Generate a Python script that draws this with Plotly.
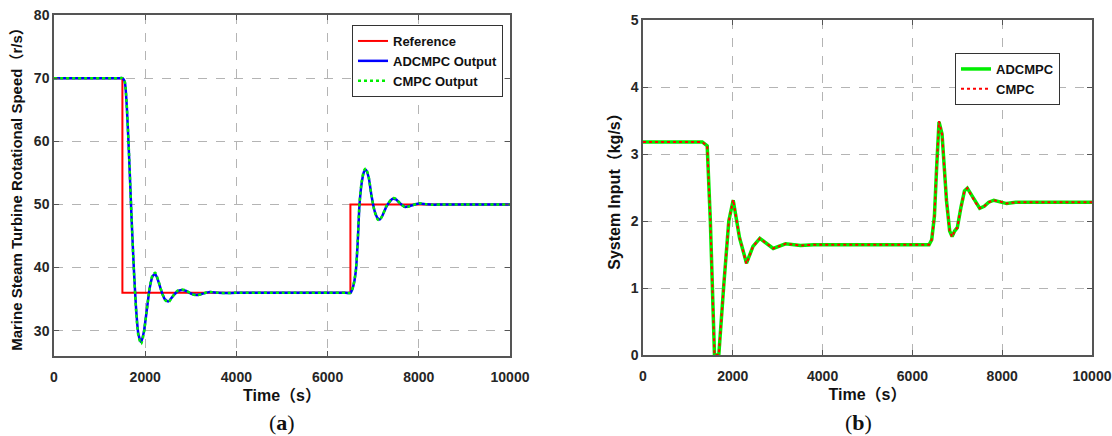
import plotly.graph_objects as go

# ---- (a) turbine rotational speed ----
ref_t = [0, 1500, 1500, 6500, 6500, 10000]
ref_speed = [70, 70, 36, 36, 50, 50]

speed_t = [0, 1300, 1450, 1500, 1550, 1600, 1650, 1700, 1750, 1800, 1850, 1910, 1970,
           2030, 2100, 2160, 2220, 2290, 2360, 2430, 2510, 2600, 2700, 2800, 2900, 3000,
           3130, 3250, 3420, 3600, 4000, 5000, 6000, 6400, 6500, 6560, 6620, 6660, 6700,
           6750, 6800, 6840, 6900, 6960, 7030, 7100, 7140, 7200, 7300, 7430, 7500, 7600,
           7700, 7800, 8000, 8150, 8300, 8500, 9000, 10000]
adcmpc_speed = [70, 70, 70, 70, 69.5, 65, 57, 48, 40, 33.5, 29.5, 28.2, 29.8,
                33, 36.8, 38.6, 39.0, 37.8, 36.2, 35.0, 34.65, 35.4, 36.2, 36.45, 36.3, 35.9,
                35.65, 35.85, 36.13, 36.0, 36.0, 36.0, 36.0, 36.0, 36.0, 37.0, 39.5, 44, 50,
                53.5, 55.2, 55.5, 54.3, 51.5, 49, 47.8, 47.6, 48.2, 49.8, 50.9, 50.8, 50.1,
                49.6, 49.75, 50.15, 50.05, 49.95, 50, 50, 50]
cmpc_speed = [70, 70, 70, 70, 69.5, 65.2, 57.2, 48, 39.8, 33.2, 29.2, 27.9, 29.6,
              33, 36.9, 38.8, 39.2, 37.9, 36.2, 34.9, 34.5, 35.4, 36.3, 36.55, 36.35, 35.9,
              35.6, 35.85, 36.15, 36.0, 36.0, 36.0, 36.0, 36.0, 36.0, 37.0, 39.6, 44.2, 50.2,
              53.8, 55.4, 55.7, 54.4, 51.5, 48.9, 47.6, 47.5, 48.2, 49.9, 51.0, 50.9, 50.1,
              49.55, 49.7, 50.2, 50.05, 49.95, 50, 50, 50]

# ---- (b) system input ----
input_t = [0, 1320, 1430, 1500, 1592, 1688, 1800, 1911, 2009, 2150, 2305, 2450,
           2602, 2750, 2900, 3175, 3510, 3800, 6371, 6430, 6490, 6540, 6593, 6660,
           6700, 6760, 6830, 6884, 6940, 7000, 7080, 7160, 7223, 7300, 7400, 7498,
           7600, 7700, 7813, 7950, 8100, 8300, 10000]
adcmpc_input = [3.18, 3.18, 3.12, 2.0, 0, 0, 1.05, 2.0, 2.31, 1.75, 1.37, 1.62,
                1.74, 1.66, 1.59, 1.66, 1.635, 1.645, 1.645, 1.72, 2.07, 2.8, 3.48, 3.3,
                2.9, 2.3, 1.85, 1.77, 1.85, 1.9, 2.2, 2.45, 2.49, 2.4, 2.28, 2.19,
                2.22, 2.28, 2.31, 2.29, 2.26, 2.28, 2.28]
cmpc_input = [3.18, 3.18, 3.12, 2.0, 0, 0, 1.05, 2.0, 2.32, 1.75, 1.36, 1.62,
              1.74, 1.66, 1.59, 1.66, 1.635, 1.645, 1.645, 1.72, 2.07, 2.8, 3.49, 3.3,
              2.9, 2.3, 1.85, 1.76, 1.85, 1.9, 2.2, 2.45, 2.49, 2.4, 2.28, 2.19,
              2.22, 2.28, 2.31, 2.29, 2.26, 2.28, 2.28]

time_ticks = [0, 2000, 4000, 6000, 8000, 10000]
time_labels = ["0", "2000", "4000", "6000", "8000", "10000"]
speed_ticks = [30, 40, 50, 60, 70, 80]
input_ticks = [0, 1, 2, 3, 4, 5]

W, H = 1112, 436
BOLD = "Liberation Sans, Arial, Noto Sans CJK SC, sans-serif"
tick_font = dict(family=BOLD, size=14, color="#262626", weight="bold")


def title_font(size):
    return dict(family=BOLD, size=size, color="#111111", weight="bold")


fig = go.Figure()

fig.add_trace(go.Scatter(x=ref_t, y=ref_speed, mode="lines", name="Reference",
                         line=dict(color="#ff0000", width=2), xaxis="x", yaxis="y",
                         legend="legend"))
fig.add_trace(go.Scatter(x=speed_t, y=adcmpc_speed, mode="lines", name="ADCMPC Output",
                         line=dict(color="#0000ff", width=2.5, shape="spline", smoothing=0.6),
                         xaxis="x", yaxis="y", legend="legend"))
fig.add_trace(go.Scatter(x=speed_t, y=cmpc_speed, mode="lines", name="CMPC Output",
                         line=dict(color="#00ee00", width=2.5, dash="dot", shape="spline",
                                   smoothing=0.6),
                         xaxis="x", yaxis="y", legend="legend"))

fig.add_trace(go.Scatter(x=input_t, y=adcmpc_input, mode="lines", name="ADCMPC",
                         line=dict(color="#00ee00", width=3.5), xaxis="x2", yaxis="y2",
                         legend="legend2"))
fig.add_trace(go.Scatter(x=input_t, y=cmpc_input, mode="lines", name="CMPC",
                         line=dict(color="#ff0000", width=2, dash="dot"), xaxis="x2",
                         yaxis="y2", legend="legend2"))


def px_x(p):
    return p / W


def px_y(p):
    return 1 - p / H


axis_common = dict(showline=True, linecolor="#555555", linewidth=1.5, mirror="ticks",
                   ticks="inside", ticklen=5, tickcolor="#555555", showgrid=True,
                   gridcolor="#b4b4b4", griddash="dash", gridwidth=1, zeroline=False,
                   tickfont=tick_font, automargin=False)

legend_font = dict(family=BOLD, size=13, color="#111111", weight="bold")

fig.update_layout(
    width=W, height=H,
    margin=dict(l=0, r=0, t=0, b=0),
    paper_bgcolor="white", plot_bgcolor="white",
    xaxis=dict(domain=[px_x(54), px_x(510)], range=[0, 10000], tickvals=time_ticks,
               ticktext=time_labels, ticklabelstandoff=7, anchor="y",
               title=dict(text="Time（s）", standoff=6, font=title_font(16)), **axis_common),
    yaxis=dict(domain=[px_y(356), px_y(15)], range=[26, 80], tickvals=speed_ticks,
               anchor="x",
               title=dict(text="Marine Steam Turbine Rotational Speed（r/s）", standoff=8,
                          font=title_font(15)),
               **axis_common),
    xaxis2=dict(domain=[px_x(643), px_x(1092)], range=[0, 10000], tickvals=time_ticks,
                ticktext=time_labels, ticklabelstandoff=7, anchor="y2",
                title=dict(text="Time（s）", standoff=6, font=title_font(16)), **axis_common),
    yaxis2=dict(domain=[px_y(355), px_y(20)], range=[0, 5], tickvals=input_ticks,
                anchor="x2",
                title=dict(text="System Input（kg/s）", standoff=6, font=title_font(16)),
                **axis_common),
    legend=dict(x=px_x(352), y=px_y(25), xanchor="left", yanchor="top",
                bgcolor="white", bordercolor="#333333", borderwidth=1,
                font=legend_font, itemwidth=30, tracegroupgap=0),
    legend2=dict(x=px_x(955), y=px_y(53), xanchor="left", yanchor="top",
                 bgcolor="white", bordercolor="#333333", borderwidth=1,
                 font=legend_font, itemwidth=30, tracegroupgap=0),
    showlegend=True,
)

serif = "Liberation Serif, Times New Roman, serif"
for label, cx in (("(<b>a</b>)", 282), ("(<b>b</b>)", 858)):
    fig.add_annotation(text=label, x=px_x(cx), y=px_y(422), xref="paper", yref="paper",
                       xanchor="center", yanchor="middle", showarrow=False,
                       font=dict(family=serif, size=22, color="#111111"))

fig.write_html("out.html")
